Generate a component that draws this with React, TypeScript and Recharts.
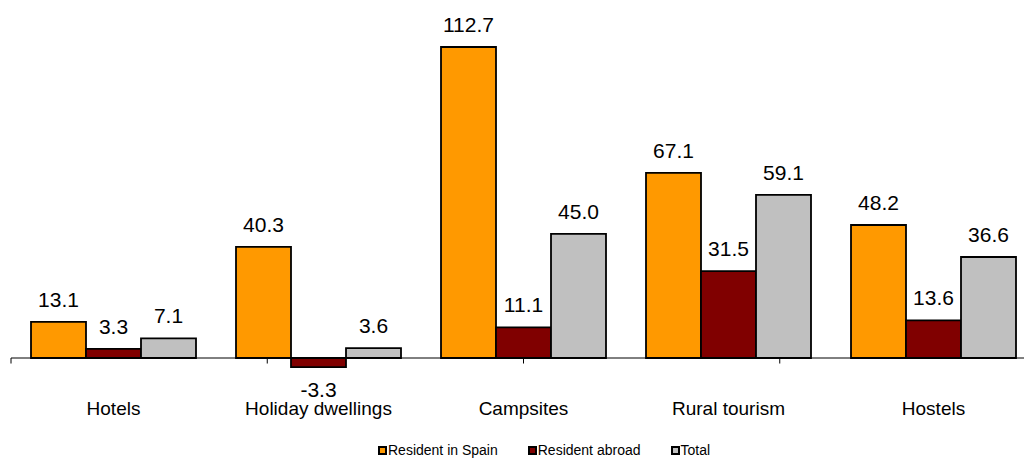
import React from 'react';
import { BarChart, Bar, XAxis, YAxis, LabelList, ReferenceLine, Legend } from 'recharts';

const categories = ['Hotels', 'Holiday dwellings', 'Campsites', 'Rural tourism', 'Hostels'];
const residentSpain = [13.1, 40.3, 112.7, 67.1, 48.2];
const residentAbroad = [3.3, -3.3, 11.1, 31.5, 13.6];
const totalValues = [7.1, 3.6, 45.0, 59.1, 36.6];
const boundaries = [0, 1, 2, 3, 4, 5];

const series = [
  { key: 'spain', name: 'Resident in Spain', color: '#FF9900' },
  { key: 'abroad', name: 'Resident abroad', color: '#800000' },
  { key: 'total', name: 'Total', color: '#C0C0C0' },
];

const data = categories.map((c, i) => ({
  name: c,
  spain: residentSpain[i],
  abroad: residentAbroad[i],
  total: totalValues[i],
}));

const FONT = "Arial, 'Liberation Sans', sans-serif";

const LegendContent = () => (
  <div style={{ display: 'flex', alignItems: 'center', height: 16, lineHeight: '16px', fontFamily: FONT, fontSize: 14, color: '#000' }}>
    {series.map((s, i) => (
      <div key={s.key} style={{ display: 'flex', alignItems: 'center', marginRight: i < series.length - 1 ? 30 : 0 }}>
        <span style={{ display: 'inline-block', width: 5, height: 5, background: s.color, border: '2px solid #000', marginRight: 1 }} />
        <span>{s.name}</span>
      </div>
    ))}
  </div>
);

export default function App() {
  return (
    <div style={{ position: 'absolute', left: 0, top: 0, width: 1024, height: 458, overflow: 'hidden', background: '#fff' }}>
      <BarChart
        width={1040}
        height={458}
        data={data}
        margin={{ top: 26.86, right: 4, bottom: 0, left: 11 }}
        barCategoryGap={20}
        barGap={0}
      >
        <XAxis
          dataKey="name"
          axisLine={false}
          tickLine={false}
          height={56.4}
          tickMargin={10}
          tick={{ fontSize: 19, fill: '#000', fontFamily: FONT }}
          interval={0}
        />
        <XAxis xAxisId="b" type="number" domain={[0, 5]} hide allowDataOverflow />
        <YAxis domain={[-10, 120]} hide allowDataOverflow={false} />
        {series.map((s) => (
          <Bar key={s.key} dataKey={s.key} name={s.name} fill={s.color} stroke="#000" strokeWidth={1.8} isAnimationActive={false}>
            <LabelList
              dataKey={s.key}
              position="top"
              offset={15}
              formatter={(v: number) => v.toFixed(1)}
              style={{ fontSize: 21, fill: '#000', fontFamily: FONT }}
            />
          </Bar>
        ))}
        <ReferenceLine y={0} xAxisId="b" stroke="#000" strokeWidth={1} ifOverflow="extendDomain" />
        {boundaries.map((b) => (
          <ReferenceLine
            key={b}
            xAxisId="b"
            segment={[{ x: b, y: 0 }, { x: b, y: -2 }]}
            stroke="#000"
            strokeWidth={1}
          />
        ))}
        <Legend
          verticalAlign="bottom"
          content={<LegendContent />}
          wrapperStyle={{ left: 378, width: 420, height: 16, bottom: 0 }}
        />
      </BarChart>
    </div>
  );
}
